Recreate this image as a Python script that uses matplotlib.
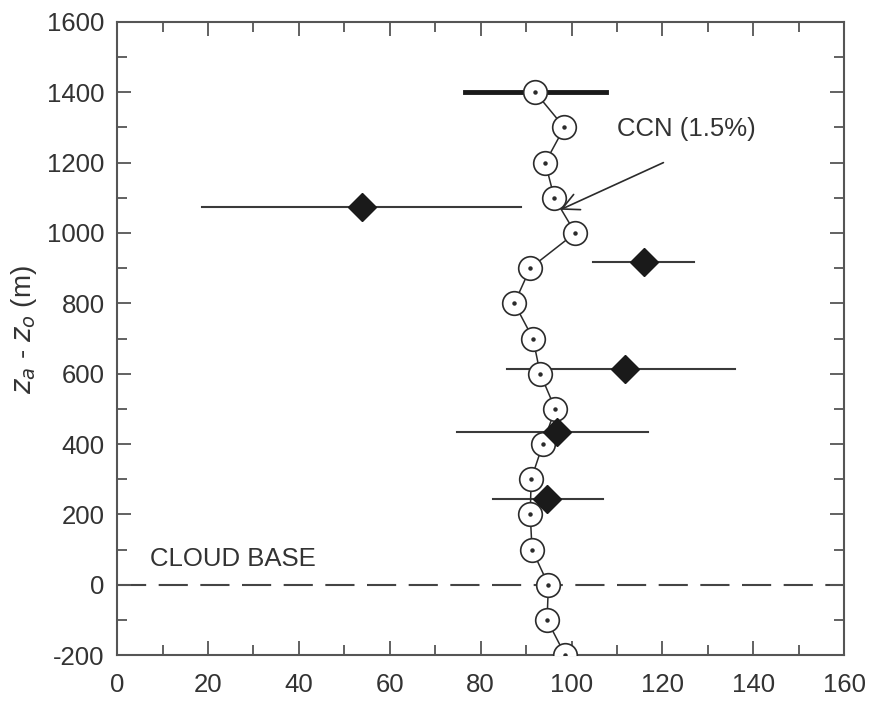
import numpy as np
import matplotlib.pyplot as plt
from matplotlib.ticker import MultipleLocator

plt.rcParams['font.family'] = ['Liberation Sans', 'DejaVu Sans']
plt.rcParams['axes.unicode_minus'] = False

# Profil (Kreise)
prof_z = [1400, 1300, 1200, 1100, 1000, 900, 800, 700, 600, 500, 400, 300, 200, 100, 0, -100, -200]
prof_x = [92.0, 98.4, 94.2, 96.2, 100.8, 90.9, 87.4, 91.5, 93.1, 96.4, 93.7, 91.1, 90.9, 91.3, 94.9, 94.6, 98.6]

# Mittelwerte mit Fehlerbalken (Rauten)
dia_z = [1075, 918, 614, 435, 245]
dia_x = [53.9, 116.0, 111.8, 96.8, 94.6]
dia_lo = [18.7, 104.8, 85.8, 74.8, 82.8]
dia_hi = [88.9, 127.0, 136.0, 116.9, 107.0]

# dicker Balken oben
top_z = 1400
top_lo, top_hi = 76.6, 107.6

TXT = "#333333"
LINE = "#2b2b2b"

fig = plt.figure(figsize=(8.74, 7.06), dpi=100)
ax = fig.add_axes([0.134, 0.072, 0.832, 0.897])

# Wolkenbasis
ax.axhline(0, color="#444444", lw=1.5, dashes=(14, 6), zorder=1)

# Fehlerbalken
for z, lo, hi in zip(dia_z, dia_lo, dia_hi):
    ax.plot([lo, hi], [z, z], color="#3a3a3a", lw=1.5, zorder=2)
ax.plot([top_lo, top_hi], [top_z, top_z], color="#1a1a1a", lw=3.5, zorder=2)

# Profil
ax.plot(prof_x, prof_z, color=LINE, lw=1.1, zorder=3)
ax.plot(prof_x, prof_z, "o", ms=17, mfc="white", mec=LINE, mew=1.2, zorder=4)
ax.plot(prof_x, prof_z, "o", ms=2.2, color=LINE, zorder=5)

# Rauten
ax.plot(dia_x, dia_z, "D", ms=14, color="#1a1a1a", zorder=6)

# Texte
ax.text(7.3, 72, "CLOUD BASE", fontsize=18.5, color=TXT, va="center", ha="left")
ax.text(110, 1262, "CCN (1.5%)", fontsize=18.5, color=TXT, ha="left", va="bottom")
ax.annotate("", xy=(97.5, 1066), xytext=(120.2, 1200),
            arrowprops=dict(arrowstyle="->", color=LINE, lw=1.2,
                            mutation_scale=30, shrinkA=0, shrinkB=0))

# Achsen
ax.set_xlim(0, 160)
ax.set_ylim(-200, 1600)
ax.xaxis.set_major_locator(MultipleLocator(20))
ax.xaxis.set_minor_locator(MultipleLocator(10))
ax.yaxis.set_major_locator(MultipleLocator(200))
ax.yaxis.set_minor_locator(MultipleLocator(100))
ax.tick_params(which="both", direction="in", top=True, right=True,
               color="#555555", width=1.3, labelsize=18.5, labelcolor=TXT)
ax.tick_params(axis="x", which="major", pad=13)
ax.tick_params(axis="y", which="major", pad=9)
ax.tick_params(which="major", length=10)
ax.tick_params(which="minor", length=7)
for side in ax.spines.values():
    side.set_color("#555555")
    side.set_linewidth(1.5)

ax.set_ylabel(r"$z_a$ - $z_o$ (m)", fontsize=20, color=TXT)
ax.yaxis.set_label_coords(-0.108, 0.515)

plt.savefig("out.png", dpi=100)
